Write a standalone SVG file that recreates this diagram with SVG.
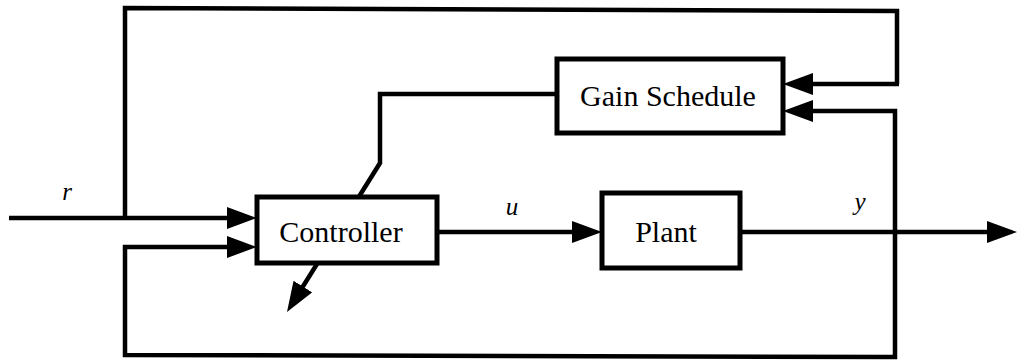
<svg xmlns="http://www.w3.org/2000/svg" width="1018" height="363" viewBox="0 0 1018 363">
<style>
.ln{fill:none;stroke:#000;stroke-width:4.5;stroke-linejoin:miter}
.arr{marker-end:url(#ah)}
.box{fill:#fff;stroke:#000;stroke-width:5}
.lbl{font-size:30px;fill:#000;text-anchor:middle}
.var{font-size:25px;font-style:italic;fill:#000;text-anchor:middle}
</style>
<defs>
<marker id="ah" markerUnits="userSpaceOnUse" viewBox="0 0 30 22" refX="20" refY="11" markerWidth="30" markerHeight="22" orient="auto">
<path d="M0,0 L30,11 L0,22 Z" fill="#000"/>
</marker>
</defs>
<rect width="1018" height="363" fill="#fff"/>
<g id="connectors">
<path class="ln arr" d="M9,218 L247,218"/>
<path class="ln" d="M125,218 L125,8 L897,11 L897,84"/>
<path class="ln arr" d="M899,84 L793,84"/>
<path class="ln arr" d="M437,232 L592,232"/>
<path class="ln arr" d="M740,232 L1007,232"/>
<path class="ln arr" d="M895,232 L895,111 L793,111"/>
<path class="ln arr" d="M895,230 L895,357 L125,355 L125,247 L247,247"/>
<path class="ln arr" d="M557,94 L380,94 L380,163 L292.3,303.5"/>
</g>
<g id="controller" font-family="'Liberation Serif', 'Times New Roman', serif">
<rect class="box" x="257" y="197" width="180" height="66"/>
<text class="lbl" x="341" y="242">Controller</text>
</g>
<g id="gain-schedule" font-family="'Liberation Serif', 'Times New Roman', serif">
<rect class="box" x="557" y="59" width="226" height="74"/>
<text class="lbl" x="668" y="106">Gain Schedule</text>
</g>
<g id="plant" font-family="'Liberation Serif', 'Times New Roman', serif">
<rect class="box" x="602" y="193" width="138" height="75"/>
<text class="lbl" x="666" y="242">Plant</text>
</g>
<g id="labels" font-family="'Liberation Serif', 'Times New Roman', serif">
<text class="var" x="67" y="200">r</text>
<text class="var" x="512" y="215">u</text>
<text class="var" x="860" y="210">y</text>
</g>
</svg>
